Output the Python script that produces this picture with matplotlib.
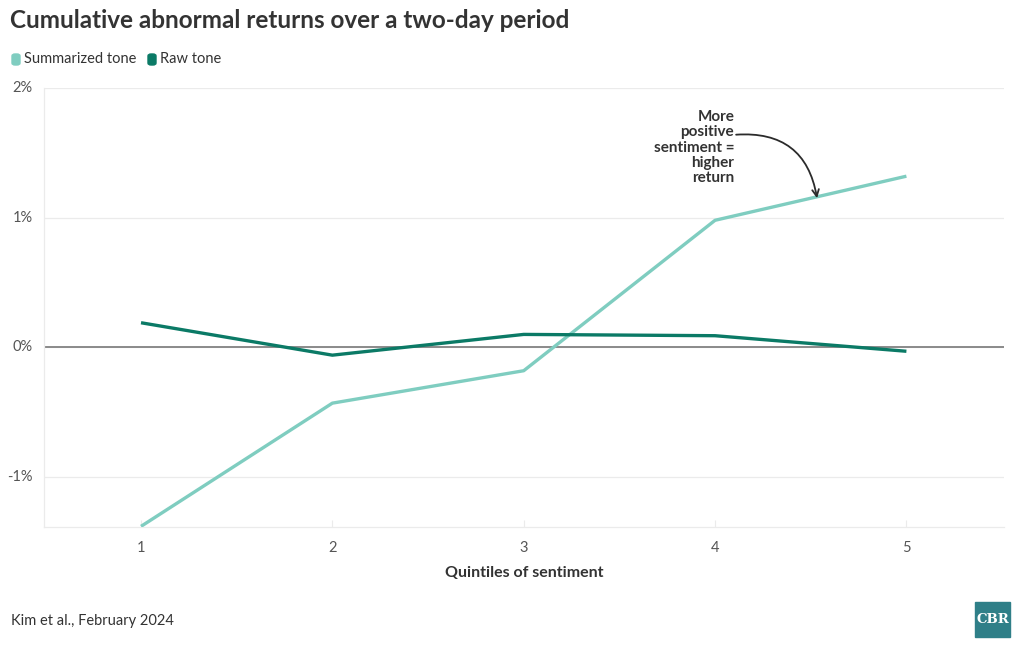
import matplotlib
matplotlib.use("Agg")
import matplotlib.pyplot as plt
from matplotlib.patches import FancyBboxPatch, Rectangle

quintiles = [1, 2, 3, 4, 5]
summarized = [-1.38, -0.43, -0.18, 0.98, 1.32]
raw = [0.19, -0.06, 0.10, 0.09, -0.03]
yticks = [-1, 0, 1, 2]
ytick_labels = ["-1%", "0%", "1%", "2%"]

C_SUM = "#7fcdc0"
C_RAW = "#0b7a66"
TXT = "#333333"
GRID = "#ebebeb"

plt.rcParams['font.family'] = ['Lato', 'DejaVu Sans']

fig = plt.figure(figsize=(10.2, 6.5), dpi=100)
ax = fig.add_axes([44/1020, 1-527/650, 960/1020, 439/650])

ax.plot(quintiles, summarized, color=C_SUM, lw=2.4, solid_capstyle='butt', zorder=3)
ax.plot(quintiles, raw, color=C_RAW, lw=2.4, solid_capstyle='butt', zorder=4)
ax.axhline(0, color="#8a8a8a", lw=1.4, zorder=2)

ax.set_xlim(0.493, 5.51)
ax.set_ylim(-1.385, 2.0)
ax.set_yticks(yticks)
ax.set_yticklabels(ytick_labels)
ax.set_xticks(quintiles)
ax.grid(axis='y', color=GRID, lw=0.9)
for s in ['top', 'right']:
    ax.spines[s].set_visible(False)
for s in ['left', 'bottom']:
    ax.spines[s].set_color(GRID)
    ax.spines[s].set_linewidth(0.9)
ax.tick_params(axis='y', length=0, pad=8, labelsize=10.5, labelcolor="#555555")
ax.tick_params(axis='x', length=5, color=GRID, direction='in', pad=10,
               labelsize=10.5, labelcolor="#555555")
for lab in ax.get_yticklabels():
    lab.set_verticalalignment('center')
ax.set_xlabel("Quintiles of sentiment", fontsize=11.5, fontweight='bold', color=TXT, labelpad=8)

# annotation
ax.annotate("", xy=(4.533, 1.15), xytext=(4.11, 1.64),
            arrowprops=dict(arrowstyle="->", color="#2b2b2b", lw=1.3,
                            connectionstyle="arc3,rad=-0.45", shrinkA=0, shrinkB=0,
                            mutation_scale=12), zorder=6)
ax.text(4.1, 1.83, "More\npositive\nsentiment =\nhigher\nreturn", ha='right', va='top',
        fontsize=11, fontweight='bold', color=TXT, linespacing=1.12)

# title
fig.text(10/1020, 1-21/650, "Cumulative abnormal returns over a two-day period",
         fontsize=17.5, fontweight='bold', color=TXT, va='center', ha='left')

# legend
def legend_item(x_px, color, label):
    fig.patches.append(FancyBboxPatch((x_px/1020, 1-65/650), 8/1020, 11/650,
                                      boxstyle="round,pad=0,rounding_size=0.003",
                                      transform=fig.transFigure, color=color))
    fig.text((x_px+12)/1020, 1-59/650, label, fontsize=10.5, color=TXT, va='center', ha='left')

legend_item(12, C_SUM, "Summarized tone")
legend_item(148, C_RAW, "Raw tone")

# source
fig.text(11/1020, 1-621/650, "Kim et al., February 2024", fontsize=10.5, color=TXT,
         va='center', ha='left')

# logo
fig.patches.append(Rectangle((975/1020, 1-637/650), 35/1020, 35/650,
                             transform=fig.transFigure, color="#2f7f88"))
fig.text(992.5/1020, 1-619.5/650, "CBR", fontsize=9.5, fontweight='bold', color='white',
         family='DejaVu Serif', ha='center', va='center')

fig.savefig("out.png", dpi=100)
